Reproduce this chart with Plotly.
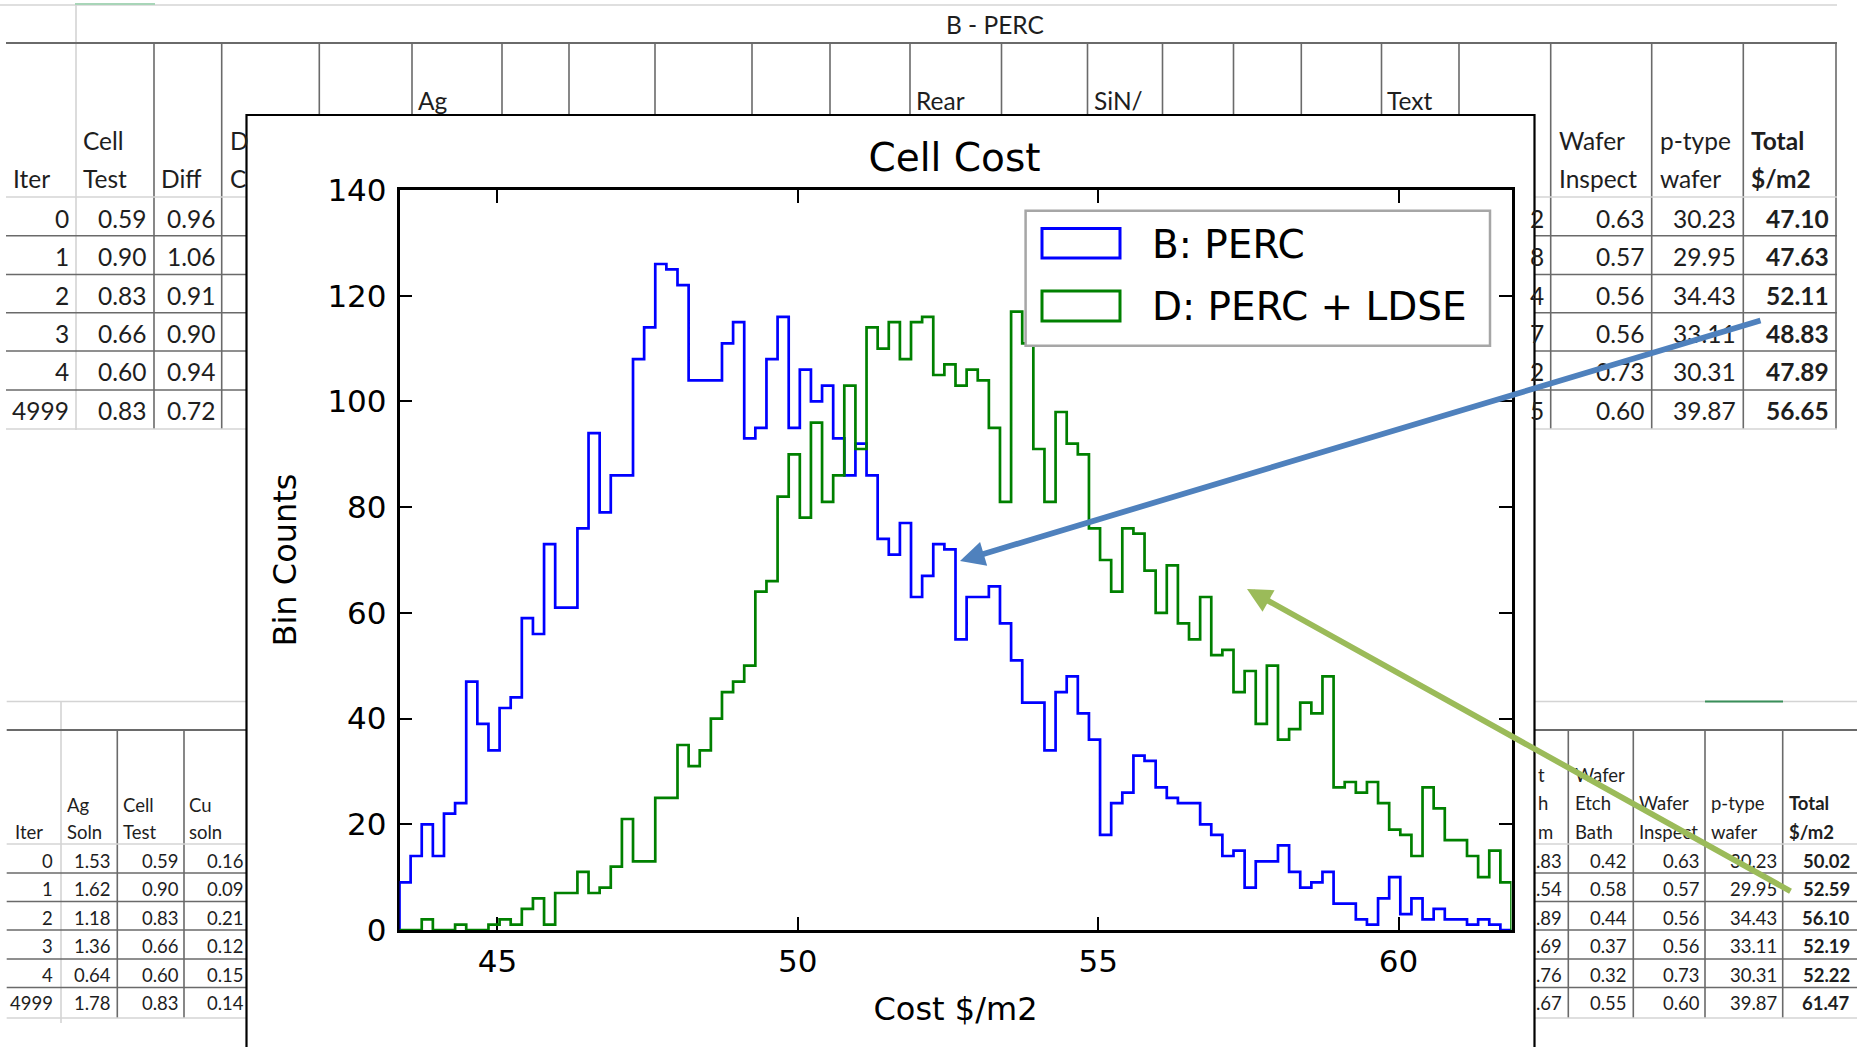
import plotly.graph_objects as go

W, H = 1857, 1047

# ---------------- histogram data ----------------
bin_start = 43.37
bin_width = 0.1851
series_names = ["B: PERC", "D: PERC + LDSE"]
series_colors = ["#0000ff", "#008000"]

perc_counts = [9, 14, 20, 14, 22, 24, 47, 39, 34, 42,
               44, 59, 56, 73, 61, 61, 76, 94, 79, 86,
               86, 108, 114, 126, 125, 122, 104, 104, 104, 111,
               115, 93, 95, 108, 116, 95, 106, 100, 103, 93,
               86, 92, 86, 74, 71, 77, 63, 67, 73, 72,
               55, 63, 63, 65, 58, 51, 43, 43, 34, 45,
               48, 41, 36, 18, 24, 26, 33, 32, 27, 25,
               24, 24, 20, 18, 14, 15, 8, 13, 13, 16,
               11, 8, 9, 11, 5, 5, 2, 1, 6, 10,
               3, 6, 2, 4, 2, 2, 1, 2, 1, 0]
ldse_counts = [0, 0, 2, 0, 0, 1, 0, 0, 1, 2,
               1, 4, 6, 1, 7, 7, 11, 7, 8, 12,
               21, 13, 13, 25, 25, 35, 31, 34, 40, 45,
               47, 50, 64, 66, 82, 90, 78, 96, 81, 86,
               103, 91, 114, 110, 115, 108, 115, 116, 105, 107,
               103, 106, 104, 95, 81, 117, 111, 91, 81, 98,
               92, 90, 76, 70, 64, 76, 75, 68, 60, 69,
               58, 55, 63, 52, 53, 45, 49, 39, 50, 36,
               38, 43, 41, 48, 27, 28, 26, 28, 24, 19,
               18, 14, 27, 23, 17, 17, 14, 10, 15, 9]

x_ticks = [45, 50, 55, 60]
y_ticks = [0, 20, 40, 60, 80, 100, 120, 140]
chart_title = "Cell Cost"
x_title = "Cost $/m2"
y_title = "Bin Counts"

# ---------------- spreadsheet data ----------------
iters = ["0", "1", "2", "3", "4", "4999"]
top_cell_test = ["0.59", "0.90", "0.83", "0.66", "0.60", "0.83"]
top_diff = ["0.96", "1.06", "0.91", "0.90", "0.94", "0.72"]
top_hidden_digit = ["2", "8", "4", "7", "2", "5"]
top_wafer_inspect = ["0.63", "0.57", "0.56", "0.56", "0.73", "0.60"]
top_ptype = ["30.23", "29.95", "34.43", "33.11", "30.31", "39.87"]
top_total = ["47.10", "47.63", "52.11", "48.83", "47.89", "56.65"]
top_mid_headers = ["Ag", "Rear", "SiN/", "Text"]

bot_ag = ["1.53", "1.62", "1.18", "1.36", "0.64", "1.78"]
bot_cell_test = ["0.59", "0.90", "0.83", "0.66", "0.60", "0.83"]
bot_cu = ["0.16", "0.09", "0.21", "0.12", "0.15", "0.14"]
bot_partial = [".83", ".54", ".89", ".69", ".76", ".67"]
bot_etch = ["0.42", "0.58", "0.44", "0.37", "0.32", "0.55"]
bot_wafer_inspect = ["0.63", "0.57", "0.56", "0.56", "0.73", "0.60"]
bot_ptype = ["30.23", "29.95", "34.43", "33.11", "30.31", "39.87"]
bot_total = ["50.02", "52.59", "56.10", "52.19", "52.22", "61.47"]

# ---------------- helpers ----------------
def px(x):
    return x / W

def py(y):
    return 1 - y / H

annotations = []
shapes = []
TXT = "#1e1e1e"
DARK = "#6a6a6a"
LIGHT = "#d4d4d4"


def txt(s, x, y, anchor="left", size=24.5, bold=False, color=TXT, family="Lato"):
    annotations.append(dict(text=("<b>%s</b>" % s) if bold else s,
                            x=px(x), y=py(y), xref="paper", yref="paper",
                            xanchor=anchor, yanchor="middle", showarrow=False,
                            font=dict(family=family, size=size, color=color)))


def hline(y, x0, x1, color=DARK, width=1.6, layer="below"):
    shapes.append(dict(type="line", xref="paper", yref="paper",
                       x0=px(x0), x1=px(x1), y0=py(y), y1=py(y),
                       line=dict(color=color, width=width), layer=layer))


def vline(x, y0, y1, color=DARK, width=1.6, layer="below"):
    shapes.append(dict(type="line", xref="paper", yref="paper",
                       x0=px(x), x1=px(x), y0=py(y0), y1=py(y1),
                       line=dict(color=color, width=width), layer=layer))


def rect(x0, y0, x1, y1, line_color, width, fill="rgba(0,0,0,0)", layer="below"):
    shapes.append(dict(type="rect", xref="paper", yref="paper",
                       x0=px(x0), x1=px(x1), y0=py(y1), y1=py(y0),
                       line=dict(color=line_color, width=width),
                       fillcolor=fill, layer=layer))


# ---------------- top table ----------------
hline(5, 0, 1837, LIGHT, 1.6)
hline(4, 75, 155, "#a8d5b8", 2)
vline(76, 5, 430, LIGHT, 1.6)
hline(43, 6, 1837, DARK, 2.2)
for xv in [154, 221.7, 319.3, 412, 502, 569, 655, 752, 830, 910, 1001.5,
           1087.5, 1162.5, 1233.5, 1301.3, 1381.5, 1459, 1550.7, 1651.7,
           1743.3, 1836]:
    vline(xv, 43, 429)
hline(197, 6, 1837, LIGHT, 1.6)
for yv in [235.7, 274.5, 312.7, 351, 390]:
    hline(yv, 6, 1837)
hline(429, 6, 1837, LIGHT, 1.6)

# ---------------- bottom tables ----------------
hline(701.5, 6.7, 1857, LIGHT, 1.6)
hline(701.5, 1705, 1783, "#3a8f5a", 2.2)
vline(61, 701.5, 1023, LIGHT, 1.6)
hline(730, 6.7, 1857, DARK, 2.2)
for xv in [117.3, 184, 1568.3, 1633.3, 1705, 1782.7]:
    vline(xv, 730, 1018)
hline(844, 6.7, 1857, LIGHT, 1.6)
for yv in [873, 901.5, 930, 959, 987.5]:
    hline(yv, 6.7, 1857)
hline(1018, 6.7, 1857, LIGHT, 1.6)

# ---------------- chart inset frame (runs off the bottom edge) ----------------
rect(246.5, 115, 1534.5, 1075, "#000000", 2.2, fill="#ffffff")

# ---------------- table text ----------------
txt("B - PERC", 995, 25, "center")
top_rows = [218.3, 256.7, 295, 333.3, 371.7, 410.7]
txt("Iter", 11, 179)
txt("Cell", 81, 141)
txt("Test", 81, 179)
txt("Diff", 159.3, 179)
txt("D", 228.3, 141)
txt("C", 228.3, 179)
for xh, h in zip([416, 913.5, 1091.5, 1385], top_mid_headers):
    txt(h, xh, 101)
txt("Wafer", 1557, 141)
txt("Inspect", 1557, 179)
txt("p-type", 1657.7, 141)
txt("wafer", 1657.7, 179)
txt("Total", 1749.3, 141, bold=True)
txt("$/m2", 1749.3, 179, bold=True)
for i, yr in enumerate(top_rows):
    txt(iters[i], 71, yr, "right")
    txt(top_cell_test[i], 148, yr, "right")
    txt(top_diff[i], 217, yr, "right")
    txt(top_hidden_digit[i], 1546, yr, "right")
    txt(top_wafer_inspect[i], 1646, yr, "right")
    txt(top_ptype[i], 1738, yr, "right")
    txt(top_total[i], 1831, yr, "right", bold=True)

BS = 18.5
bot_rows = [860.7, 889, 917.5, 946.3, 974.5, 1003.3]
txt("Iter", 12.7, 832, size=BS)
txt("Ag", 65, 805, size=BS)
txt("Soln", 65, 832, size=BS)
txt("Cell", 120.7, 805, size=BS)
txt("Test", 120.7, 832, size=BS)
txt("Cu", 187.3, 805, size=BS)
txt("soln", 187.3, 832, size=BS)
txt("t", 1536, 775, size=BS)
txt("h", 1536, 803.3, size=BS)
txt("m", 1536, 832, size=BS)
txt("Wafer", 1573.3, 775, size=BS)
txt("Etch", 1573.3, 803.3, size=BS)
txt("Bath", 1573.3, 832, size=BS)
txt("Wafer", 1636.7, 803.3, size=BS)
txt("Inspect", 1636.7, 832, size=BS)
txt("p-type", 1709.3, 803.3, size=BS)
txt("wafer", 1709.3, 832, size=BS)
txt("Total", 1787.3, 803.3, size=BS, bold=True)
txt("$/m2", 1787.3, 832, size=BS, bold=True)
for i, yr in enumerate(bot_rows):
    txt(iters[i], 55, yr, "right", size=BS)
    txt(bot_ag[i], 113, yr, "right", size=BS)
    txt(bot_cell_test[i], 180.5, yr, "right", size=BS)
    txt(bot_cu[i], 245.5, yr, "right", size=BS)
    txt(bot_partial[i], 1564, yr, "right", size=BS)
    txt(bot_etch[i], 1629, yr, "right", size=BS)
    txt(bot_wafer_inspect[i], 1702, yr, "right", size=BS)
    txt(bot_ptype[i], 1779, yr, "right", size=BS)
    txt(bot_total[i], 1851.5, yr, "right", size=BS, bold=True)

# ---------------- legend (drawn like matplotlib) ----------------
rect(1025.6, 210.8, 1490, 345.8, "#a6a6a6", 2.5, fill="#ffffff", layer="above")
rect(1042, 228.6, 1120, 258, series_colors[0], 3, layer="above")
rect(1042, 291, 1120, 321, series_colors[1], 3, layer="above")
txt(series_names[0], 1150, 244, size=39, color="#000000", family="DejaVu Sans")
txt(series_names[1], 1150, 306.5, size=39, color="#000000", family="DejaVu Sans")

# ---------------- arrows ----------------
def arrow(head, tail, color):
    annotations.append(dict(text="", x=px(head[0]), y=py(head[1]), xref="paper", yref="paper",
                            ax=tail[0] - head[0], ay=tail[1] - head[1],
                            showarrow=True, arrowhead=2, arrowsize=0.85,
                            arrowwidth=5.8, arrowcolor=color, standoff=0))

arrow((960, 561), (1762, 320), "#4f81bd")
arrow((1247, 589), (1792, 892), "#9bbb59")

# ---------------- histogram traces ----------------
fig = go.Figure()
for counts, name, color in zip([perc_counts, ldse_counts], series_names, series_colors):
    edges = [bin_start + i * bin_width for i in range(len(counts) + 1)]
    xs = [edges[0]] + edges
    ys = [0] + list(counts) + [0]
    fig.add_trace(go.Scatter(x=xs, y=ys, mode="lines", name=name, showlegend=False,
                             line=dict(color=color, width=2.7, shape="hv"),
                             hoverinfo="skip"))

x_lo = bin_start
x_hi = bin_start + bin_width * len(perc_counts)

axis_common = dict(ticks="inside", ticklen=13, tickwidth=2, tickcolor="#000000",
                   showline=True, linecolor="#000000", linewidth=2.5, mirror="ticks",
                   showgrid=False, zeroline=False, layer="below traces",
                   automargin=False,
                   tickfont=dict(family="DejaVu Sans", size=31, color="#000000"))

fig.update_layout(
    template="none",
    autosize=False,
    width=W, height=H, margin=dict(l=0, r=0, t=0, b=0, pad=0, autoexpand=False),
    paper_bgcolor="#ffffff", plot_bgcolor="rgba(0,0,0,0)",
    showlegend=False,
    title=dict(text=chart_title, x=px(954.5), y=py(157), xref="paper", yref="paper",
               xanchor="center", yanchor="middle", automargin=False,
               font=dict(family="DejaVu Sans", size=39, color="#000000")),
    xaxis=dict(domain=[px(399.5), px(1511.5)], range=[x_lo, x_hi], tickvals=x_ticks,
               ticklabelstandoff=2,
               title=dict(text=x_title, standoff=20,
                          font=dict(family="DejaVu Sans", size=32, color="#000000")),
               **axis_common),
    yaxis=dict(domain=[py(930), py(190)], range=[0, 140], tickvals=y_ticks,
               ticklabelstandoff=4,
               title=dict(text=y_title, standoff=22,
                          font=dict(family="DejaVu Sans", size=32, color="#000000")),
               **axis_common),
    shapes=shapes,
    annotations=annotations,
)

fig.write_html("out.html", config={"responsive": False, "displayModeBar": False},
               post_script="document.body.style.margin='0px';document.body.style.padding='0px';")
